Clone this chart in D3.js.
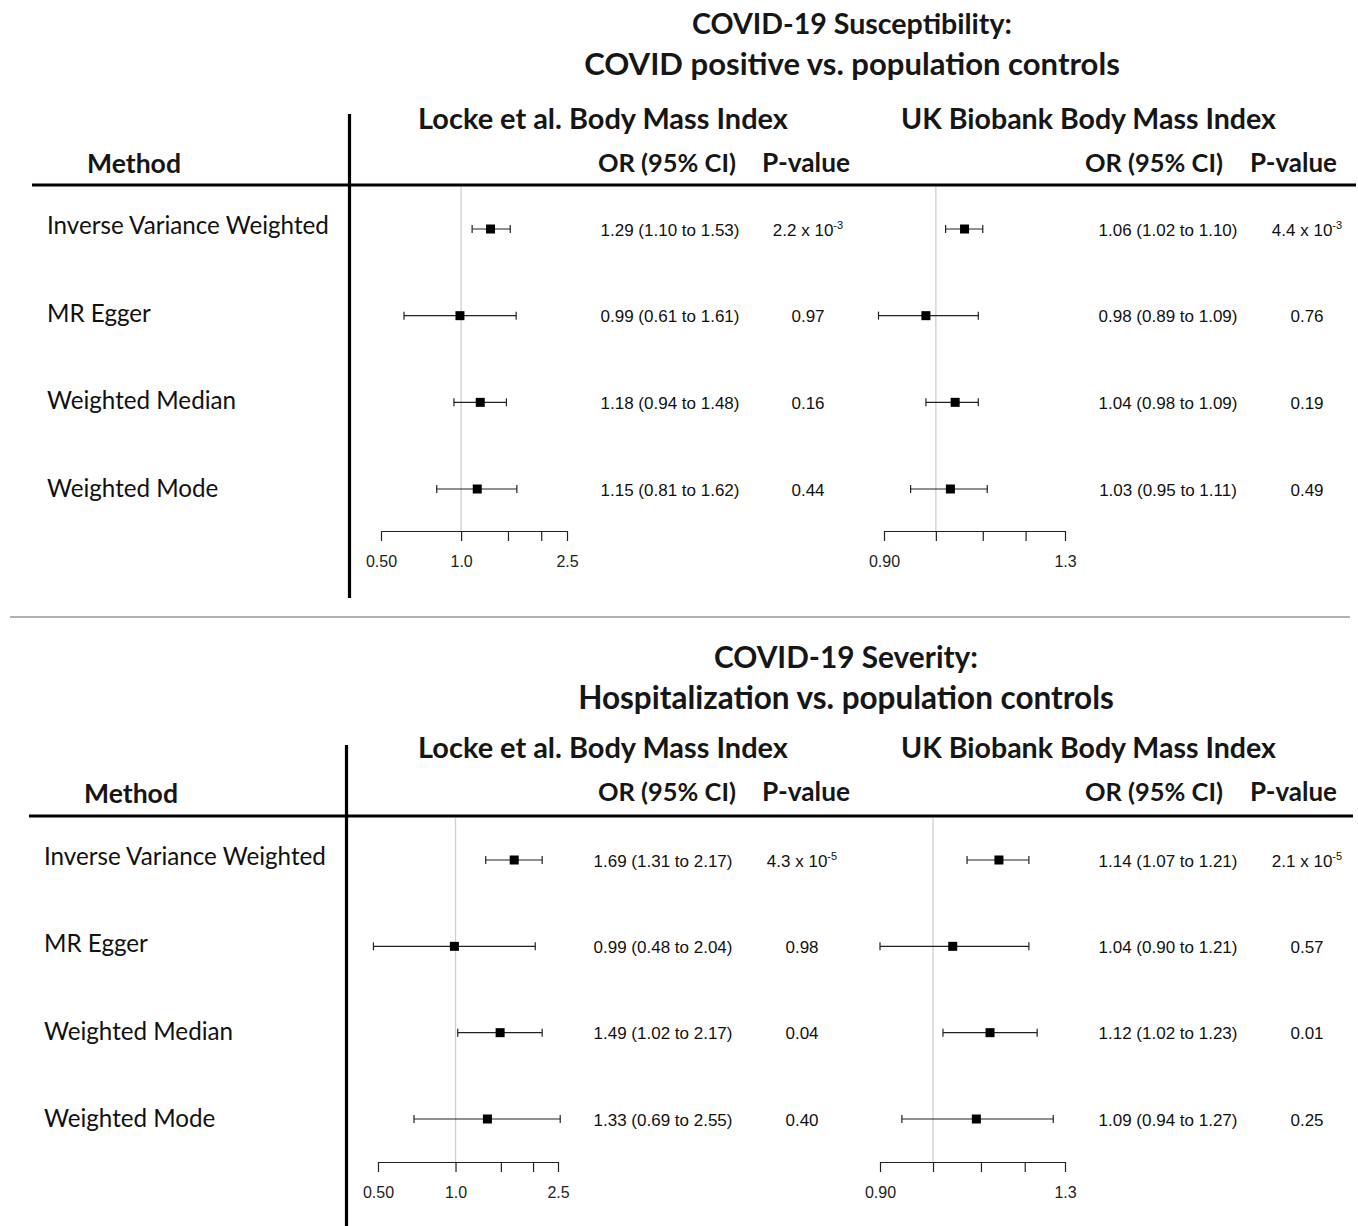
<!DOCTYPE html>
<html><head><meta charset="utf-8">
<script src="https://cdn.jsdelivr.net/npm/d3@7"></script>
<style>
html,body{margin:0;padding:0;background:#fff;}
svg{display:block;}
</style></head>
<body>
<svg id="chart" width="1358" height="1226"></svg>
<script>
// ---------- DATA ----------
const methods = ["Inverse Variance Weighted", "MR Egger", "Weighted Median", "Weighted Mode"];

const susTitle = ["COVID-19 Susceptibility:", "COVID positive vs. population controls"];
const sevTitle = ["COVID-19 Severity:", "Hospitalization vs. population controls"];
const exposures = ["Locke et al. Body Mass Index", "UK Biobank Body Mass Index"];

// Susceptibility – Locke et al.
const susLockeOR = [1.29, 0.99, 1.18, 1.15];
const susLockeLo = [1.10, 0.61, 0.94, 0.81];
const susLockeHi = [1.53, 1.61, 1.48, 1.62];
const susLockeP  = ["2.2 x 10^-3", "0.97", "0.16", "0.44"];
// Susceptibility – UK Biobank
const susUkbOR = [1.06, 0.98, 1.04, 1.03];
const susUkbLo = [1.02, 0.89, 0.98, 0.95];
const susUkbHi = [1.10, 1.09, 1.09, 1.11];
const susUkbP  = ["4.4 x 10^-3", "0.76", "0.19", "0.49"];
// Severity – Locke et al.
const sevLockeOR = [1.69, 0.99, 1.49, 1.33];
const sevLockeLo = [1.31, 0.48, 1.02, 0.69];
const sevLockeHi = [2.17, 2.04, 2.17, 2.55];
const sevLockeP  = ["4.3 x 10^-5", "0.98", "0.04", "0.40"];
// Severity – UK Biobank
const sevUkbOR = [1.14, 1.04, 1.12, 1.09];
const sevUkbLo = [1.07, 0.90, 1.02, 0.94];
const sevUkbHi = [1.21, 1.21, 1.23, 1.27];
const sevUkbP  = ["2.1 x 10^-5", "0.57", "0.01", "0.25"];

// axis ticks
const lockeTicks = [0.5, 1.0, 1.5, 2.0, 2.5];
const lockeTickLabels = ["0.50", "1.0", "", "", "2.5"];
const ukbTicks = [0.9, 1.0, 1.1, 1.2, 1.3];
const ukbTickLabels = ["0.90", "", "", "", "1.3"];

// ---------- DRAW ----------
const svg = d3.select("#chart");
const HEAD = "Lato, 'Open Sans', sans-serif";
const NUM = "'Liberation Sans', Arial, Helvetica, sans-serif";
const fmt2 = d3.format(".2f");

function fitText(sel, targetW, baseSize) {
  sel.attr("font-size", baseSize);
  const w = sel.node().getComputedTextLength();
  sel.attr("font-size", baseSize * targetW / w);
  return sel;
}

function centered(g, txt, cx, y, w, bold, size) {
  const t = g.append("text").attr("x", cx).attr("y", y)
    .attr("text-anchor", "middle").attr("font-family", HEAD)
    .attr("font-weight", bold ? 700 : 400).attr("fill", "#161616").text(txt);
  fitText(t, w, size);
  return t;
}

function drawPanel(cfg) {
  const g = svg.append("g");
  // titles
  centered(g, cfg.title[0], cfg.titleX, cfg.t1y, cfg.t1w, true, 28);
  centered(g, cfg.title[1], cfg.titleX, cfg.t2y, cfg.t2w, true, 28);
  // exposure headers
  centered(g, exposures[0], 603, cfg.subY, 370, true, 28);
  centered(g, exposures[1], 1088.5, cfg.subY, 375, true, 28);
  // column headers
  centered(g, "Method", cfg.methodCx, cfg.colY, 94, true, 28);
  centered(g, "OR (95% CI)", 667, cfg.colHY, 138, true, 28);
  centered(g, "P-value", 806, cfg.colHY, 88, true, 28);
  centered(g, "OR (95% CI)", 1154, cfg.colHY, 138, true, 28);
  centered(g, "P-value", 1293.5, cfg.colHY, 87, true, 28);

  // rules
  g.append("line").attr("x1", cfg.ruleX1).attr("x2", cfg.ruleX2)
    .attr("y1", cfg.ruleY).attr("y2", cfg.ruleY).attr("stroke", "#000").attr("stroke-width", 3.2);
  g.append("line").attr("x1", cfg.vX).attr("x2", cfg.vX)
    .attr("y1", cfg.vY1).attr("y2", cfg.vY2).attr("stroke", "#000").attr("stroke-width", 3.2);

  const y = d3.scalePoint().domain(methods).range(cfg.rowRange);
  const yLab = d3.scalePoint().domain(methods).range(cfg.labelRange);

  // method labels
  g.selectAll("text.method").data(methods).join("text")
    .attr("class", "method")
    .attr("x", cfg.methodX).attr("y", d => yLab(d))
    .attr("font-family", HEAD).attr("font-size", 23.5).attr("fill", "#111")
    .text(d => d)
    .each(function (d, i) { if (i === 0) { fitText(d3.select(this), 282, 23.5); } });
  const ms = g.select("text.method").attr("font-size");
  g.selectAll("text.method").attr("font-size", ms);

  cfg.sub.forEach(s => {
    const x = d3.scaleLog().domain(s.domain).range(s.range);
    const rows = methods.map((m, i) => ({ m, or: s.or[i], lo: s.lo[i], hi: s.hi[i], p: s.p[i] }));
    // reference line at 1
    g.append("line").attr("x1", x(1)).attr("x2", x(1))
      .attr("y1", cfg.refY1).attr("y2", cfg.axisY)
      .attr("stroke", "#cfcfcf").attr("stroke-width", 1.3);
    // axis
    const ax = d3.axisBottom(x).tickValues(s.ticks)
      .tickFormat((d, i) => s.labels[i]).tickSize(10).tickSizeOuter(0).tickPadding(15);
    const axg = g.append("g").attr("transform", `translate(0,${cfg.axisY})`).call(ax);
    axg.select(".domain").attr("stroke", "#222").attr("stroke-width", 1.2);
    axg.selectAll(".tick line").attr("stroke", "#222").attr("stroke-width", 1.2);
    axg.selectAll(".tick text").attr("font-family", NUM).attr("font-size", 16).attr("fill", "#222");

    const rg = g.append("g").selectAll("g").data(rows).join("g")
      .attr("transform", d => `translate(0,${y(d.m)})`);
    rg.append("line").attr("x1", d => x(d.lo)).attr("x2", d => x(d.hi))
      .attr("stroke", "#222").attr("stroke-width", 1.2);
    rg.append("line").attr("x1", d => x(d.lo)).attr("x2", d => x(d.lo))
      .attr("y1", -4).attr("y2", 4).attr("stroke", "#222").attr("stroke-width", 1.2);
    rg.append("line").attr("x1", d => x(d.hi)).attr("x2", d => x(d.hi))
      .attr("y1", -4).attr("y2", 4).attr("stroke", "#222").attr("stroke-width", 1.2);
    rg.append("rect").attr("x", d => x(d.or) - 4.5).attr("y", -4.5)
      .attr("width", 9).attr("height", 9).attr("fill", "#000");
    // CI text
    rg.append("text").attr("x", s.ciX).attr("y", 6.5)
      .attr("text-anchor", "middle").attr("font-family", NUM).attr("font-size", 17).attr("fill", "#111")
      .text(d => `${fmt2(d.or)} (${fmt2(d.lo)} to ${fmt2(d.hi)})`);
    // P text
    rg.append("text").attr("x", s.pX).attr("y", 6.5)
      .attr("text-anchor", "middle").attr("font-family", NUM).attr("font-size", 17).attr("fill", "#111")
      .each(function (d) {
        const t = d3.select(this);
        const parts = d.p.split("^");
        t.append("tspan").text(parts[0]);
        if (parts.length > 1) {
          t.append("tspan").attr("dy", -7).attr("font-size", 11).text(parts[1]);
        }
      });
  });
}

drawPanel({
  title: susTitle, titleX: 852, t1y: 34, t1w: 320, t2y: 75, t2w: 536,
  subY: 129, colY: 173, colHY: 172, methodCx: 134,
  ruleY: 185, ruleX1: 32, ruleX2: 1356, vX: 349.5, vY1: 114, vY2: 598,
  rowRange: [229, 489], labelRange: [234, 497], methodX: 47,
  refY1: 187, axisY: 531,
  sub: [
    { or: susLockeOR, lo: susLockeLo, hi: susLockeHi, p: susLockeP, domain: [0.5, 2.5], range: [381, 567],
      ticks: lockeTicks, labels: lockeTickLabels, ciX: 670, pX: 808 },
    { or: susUkbOR, lo: susUkbLo, hi: susUkbHi, p: susUkbP, domain: [0.9, 1.3], range: [884, 1065],
      ticks: ukbTicks, labels: ukbTickLabels, ciX: 1168, pX: 1307 }
  ]
});

// divider
svg.append("line").attr("x1", 10).attr("x2", 1350).attr("y1", 617).attr("y2", 617)
  .attr("stroke", "#9a9a9a").attr("stroke-width", 1.5);

drawPanel({
  title: sevTitle, titleX: 846, t1y: 668, t1w: 264, t2y: 709, t2w: 536,
  subY: 758, colY: 803, colHY: 801, methodCx: 131,
  ruleY: 816, ruleX1: 29, ruleX2: 1353, vX: 346.5, vY1: 745, vY2: 1226,
  rowRange: [860, 1119], labelRange: [865, 1127], methodX: 44,
  refY1: 818, axisY: 1162,
  sub: [
    { or: sevLockeOR, lo: sevLockeLo, hi: sevLockeHi, p: sevLockeP, domain: [0.5, 2.5], range: [378, 558],
      ticks: lockeTicks, labels: lockeTickLabels, ciX: 663, pX: 802 },
    { or: sevUkbOR, lo: sevUkbLo, hi: sevUkbHi, p: sevUkbP, domain: [0.9, 1.3], range: [880, 1065],
      ticks: ukbTicks, labels: ukbTickLabels, ciX: 1168, pX: 1307 }
  ]
});
</script>
</body></html>
